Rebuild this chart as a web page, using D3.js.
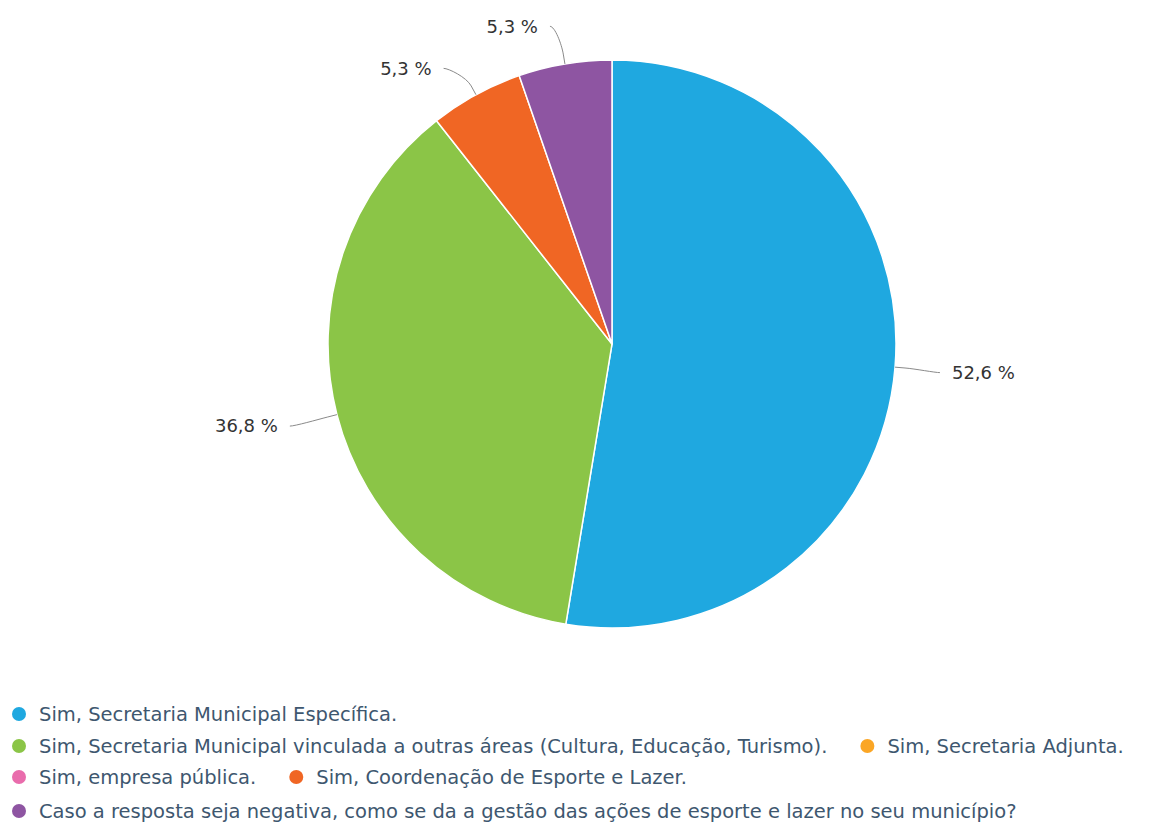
<!DOCTYPE html>
<html><head><meta charset="utf-8">
<script src="https://cdn.jsdelivr.net/npm/d3@7"></script>
<style>body{margin:0;background:#fff;}svg{display:block;font-family:"DejaVu Sans",sans-serif;}</style>
</head><body>
<svg id="chart" width="1173" height="825"></svg>
<script>
const categories = [
  "Sim, Secretaria Municipal Específica.",
  "Sim, Secretaria Municipal vinculada a outras áreas (Cultura, Educação, Turismo).",
  "Sim, Secretaria Adjunta.",
  "Sim, empresa pública.",
  "Sim, Coordenação de Esporte e Lazer.",
  "Caso a resposta seja negativa, como se da a gestão das ações de esporte e lazer no seu município?"
];
const values = [52.6, 36.8, 0, 0, 5.3, 5.3];
const labels = ["52,6 %", "36,8 %", "", "", "5,3 %", "5,3 %"];
const colors = ["#1fa8e0", "#8bc547", "#fba625", "#e96cac", "#f06624", "#8e55a2"];

const svg = d3.select("#chart");
const cx = 612, cy = 344, r = 284;
const data = categories.map((c, i) => ({name: c, value: values[i], label: labels[i], color: colors[i]}));
const pie = d3.pie().sort(null).value(d => d.value);
const arcs = pie(data);
const arc = d3.arc().innerRadius(0).outerRadius(r);
const g = svg.append("g").attr("transform", `translate(${cx},${cy})`);
g.selectAll("path.slice").data(arcs.filter(a => a.data.value > 0)).join("path")
  .attr("class", "slice").attr("d", arc).attr("fill", d => d.data.color)
  .attr("stroke", "#fff").attr("stroke-width", 1.5).attr("stroke-linejoin", "round");

function polar(rad, ang) { return [rad * Math.sin(ang), -rad * Math.cos(ang)]; }
const lblDist = 30;
arcs.filter(a => a.data.value > 0).forEach((a, i) => {
  const mid = (a.startAngle + a.endAngle) / 2;
  const right = Math.sin(mid) > 0;
  const touch = polar(r, mid);
  const brk = polar(r + 10, mid);
  let anchor = polar(r + lblDist, mid);
  if (Math.cos(mid) > 0.95) { anchor[1] -= 8; anchor[0] += 8; }
  if (!right && Math.cos(mid) < 0) anchor[1] += 4;
  if (right) anchor[1] += 3;
  const lx = anchor[0] + (right ? 15 : -18);
  const ly = anchor[1];
  const c1x = lx + (right ? -5 : 5);
  const path = `M${lx},${ly} C${c1x},${ly} ${2*brk[0]-touch[0]},${2*brk[1]-touch[1]} ${brk[0]},${brk[1]} L${touch[0]},${touch[1]}`;
  g.append("path").attr("d", path).attr("fill", "none").attr("stroke", "#8a8a8a").attr("stroke-width", 1);
  g.append("text").attr("x", lx + (right ? 12 : -12)).attr("y", ly)
    .attr("dy", "0.35em").attr("text-anchor", right ? "start" : "end")
    .attr("font-size", 18).attr("fill", "#333").text(a.data.label);
});

// legend
const legend = svg.append("g");
const fontSize = 19.5, symR = 7, textGap = 13, itemDist = 33, maxW = 1172, startX = 12;
const rowYs = [714, 746, 777, 811];
let x = startX, row = 0;
const tmp = svg.append("text").attr("font-size", fontSize);
data.forEach((d, i) => {
  tmp.text(d.name);
  const tw = tmp.node().getComputedTextLength();
  const w = symR * 2 + textGap + tw;
  if (x > startX && x + w > maxW) { row++; x = startX; }
  const y = rowYs[row];
  const it = legend.append("g");
  it.append("circle").attr("cx", x + symR).attr("cy", y).attr("r", symR).attr("fill", d.color);
  it.append("text").attr("x", x + symR * 2 + textGap).attr("y", y).attr("dy", "0.35em")
    .attr("font-size", fontSize).attr("fill", "#3e576f").text(d.name);
  x += w + itemDist;
});
tmp.remove();
</script>
</body></html>
